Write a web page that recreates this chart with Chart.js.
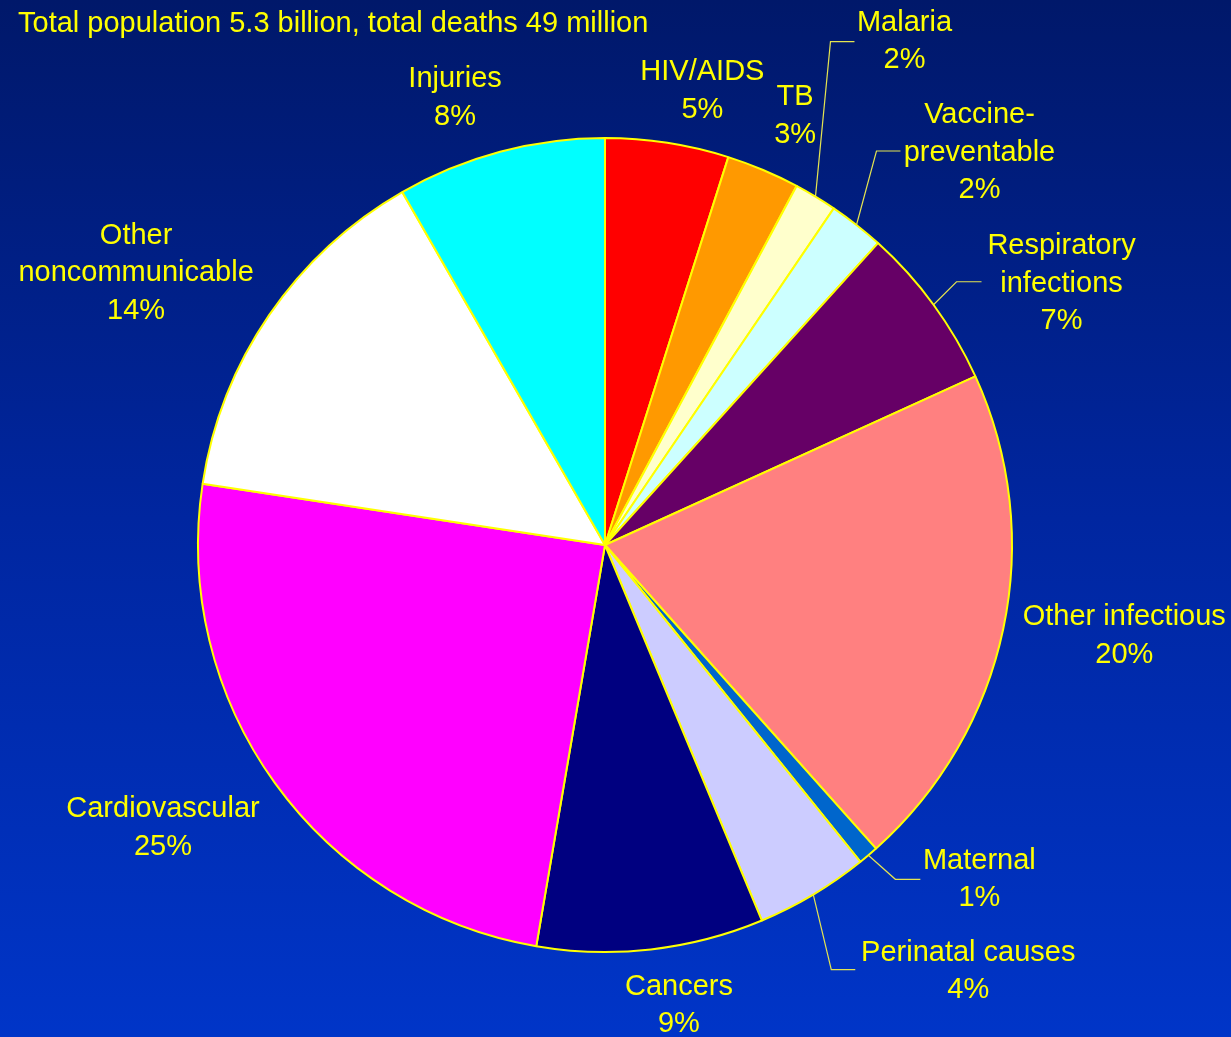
<!DOCTYPE html>
<html>
<head>
<meta charset="utf-8">
<script src="https://cdn.jsdelivr.net/npm/chart.js@4"></script>
<style>
  html, body { margin: 0; padding: 0; }
  body { width: 1231px; height: 1037px; overflow: hidden;
         background: linear-gradient(to bottom, #00186a 0%, #0026a0 50%, #0035c8 100%); }
  canvas { display: block; }
</style>
</head>
<body>
<canvas id="pie" width="1231" height="1037"></canvas>
<script>
// Dados
const title = 'Total population 5.3 billion, total deaths 49 million';
const categories = ['HIV/AIDS', 'TB', 'Malaria', 'Vaccine-preventable', 'Respiratory infections',
  'Other infectious', 'Maternal', 'Perinatal causes', 'Cancers', 'Cardiovascular',
  'Other noncommunicable', 'Injuries'];
// fatias medidas no desenho (%)
const shares = [4.9, 2.9, 1.7, 2.2, 6.5, 20.2, 0.8, 4.5, 9.0, 24.7, 14.3, 8.3];
// percentuais impressos nos rótulos
const printedPct = [5, 3, 2, 2, 7, 20, 1, 4, 9, 25, 14, 8];

const colors = ['#ff0000', '#ff9900', '#ffffcc', '#ccffff', '#660066', '#ff8080',
  '#0066cc', '#ccccff', '#000080', '#ff00ff', '#ffffff', '#00ffff'];

// quebras de linha dos rótulos
const wraps = {
  'Vaccine-preventable': ['Vaccine-', 'preventable'],
  'Respiratory infections': ['Respiratory', 'infections'],
  'Other noncommunicable': ['Other', 'noncommunicable']
};

// posição do rótulo relativa ao ponto médio da borda da fatia; lead = cotovelo da linha guia
const labelLayout = [
  { dx: 35, dy: -53 },
  { dx: 32, dy: -55 },
  { dx: 89, dy: -156, lead: { ex: 15, ey: -155, h: 24 } },
  { dx: 123, dy: -73, lead: { ex: 20, ey: -74, h: 24 } },
  { dx: 128, dy: -22, lead: { ex: 23, ey: -23, h: 25 } },
  { dx: 121, dy: 6 },
  { dx: 111, dy: 23, lead: { ex: 27, ey: 24, h: 25 } },
  { dx: 155, dy: 76, lead: { ex: 18, ey: 75, h: 24 } },
  { dx: 28, dy: 55 },
  { dx: -112, dy: 44 },
  { dx: -133, dy: -43 },
  { dx: -45, dy: -55 }
];

const FONT = '29px "Liberation Sans", Arial, sans-serif';
const LINE_H = 37.5;
const YELLOW = '#ffff00';

const labelPlugin = {
  id: 'pieLabels',
  afterDatasetsDraw(chart) {
    const ctx = chart.ctx;
    const arcs = chart.getDatasetMeta(0).data;
    ctx.save();
    ctx.font = FONT;
    ctx.fillStyle = YELLOW;
    ctx.textBaseline = 'middle';

    // título
    ctx.textAlign = 'left';
    ctx.fillText(title, 18, 24);

    ctx.textAlign = 'center';
    arcs.forEach((arc, i) => {
      const { x, y, startAngle, endAngle, outerRadius } = arc.getProps(['x', 'y', 'startAngle', 'endAngle', 'outerRadius'], true);
      const mid = (startAngle + endAngle) / 2;
      const px = x + Math.cos(mid) * outerRadius;
      const py = y + Math.sin(mid) * outerRadius;
      const lay = labelLayout[i];

      if (lay.lead) {
        const ex = px + lay.lead.ex, ey = py + lay.lead.ey;
        ctx.strokeStyle = '#e4e450';
        ctx.lineWidth = 1.2;
        ctx.beginPath();
        ctx.moveTo(px, py);
        ctx.lineTo(ex, ey);
        ctx.lineTo(ex + lay.lead.h, ey);
        ctx.stroke();
      }

      const lines = (wraps[categories[i]] || [categories[i]]).concat([printedPct[i] + '%']);
      const cx = px + lay.dx;
      const cy = py + lay.dy - (lines.length - 1) * LINE_H / 2 + 1;
      lines.forEach((t, k) => ctx.fillText(t, cx, cy + k * LINE_H));
    });
    ctx.restore();
  }
};

const pieCtx = document.getElementById('pie').getContext('2d');
new Chart(pieCtx, {
  type: 'pie',
  data: {
    labels: categories,
    datasets: [{
      data: shares,
      backgroundColor: colors,
      borderColor: YELLOW,
      borderWidth: 2
    }]
  },
  options: {
    responsive: false,
    animation: false,
    devicePixelRatio: 1,
    layout: { padding: { left: 197, right: 218, top: 137, bottom: 84 } },
    plugins: { legend: { display: false }, tooltip: { enabled: false }, title: { display: false } }
  },
  plugins: [labelPlugin]
});
</script>
</body>
</html>
